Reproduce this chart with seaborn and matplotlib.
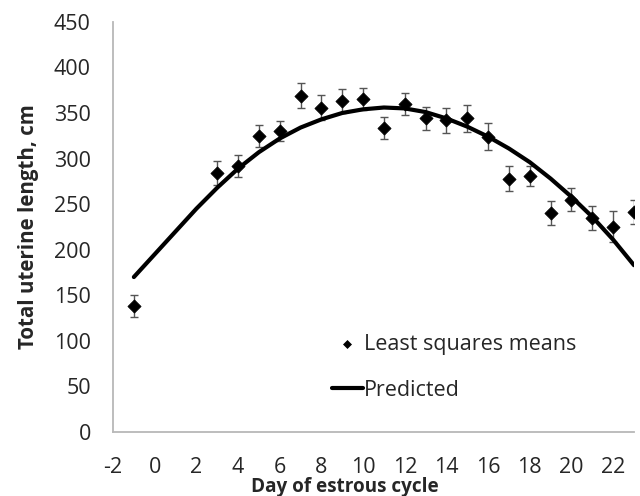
import seaborn as sns
import matplotlib.pyplot as plt
import numpy as np
import pandas as pd

# Least squares means per day of estrous cycle
dias = [-1, 3, 4, 5, 6, 7, 8, 9, 10, 11, 12, 13, 14, 15, 16, 17, 18, 19, 20, 21, 22, 23]
medias = [138, 284, 292, 325, 330, 369, 356, 363, 365, 334, 360, 344, 342, 344, 324,
          278, 281, 240, 255, 235, 225, 241]
erros = [12, 13, 12, 12, 11, 14, 14, 13, 12, 12, 12, 13, 14, 15, 15, 14, 11, 13, 13, 13, 17, 13]

# Predicted curve
dias_pred = list(range(-1, 24))
predito = [170, 195, 220, 245, 268, 289, 307, 322, 334, 343, 350, 354, 356, 355, 351,
           344, 335, 324, 311, 296, 278, 258, 236, 211, 183]

df_medias = pd.DataFrame({'dia': dias, 'comprimento': medias, 'erro': erros})
df_pred = pd.DataFrame({'dia': dias_pred, 'comprimento': predito})

sns.set_style("white")
plt.rcParams['font.family'] = ['Open Sans', 'DejaVu Sans']
plt.rcParams['axes.unicode_minus'] = False

fig = plt.figure(figsize=(6.4, 4.96), dpi=100)
eixo = fig.add_axes([0.1766, 0.129, 0.814, 0.827])

eixo.errorbar(df_medias['dia'], df_medias['comprimento'], yerr=df_medias['erro'],
              fmt='none', ecolor='#555555', elinewidth=1, capsize=3, capthick=1, zorder=2)
sns.scatterplot(data=df_medias, x='dia', y='comprimento', marker='D', s=45, color='black',
                edgecolor='black', label='Least squares means', ax=eixo, zorder=3)
sns.lineplot(data=df_pred, x='dia', y='comprimento', color='black', linewidth=3,
             label='Predicted', ax=eixo, zorder=4)

eixo.set_xlim(-2, 23)
eixo.set_ylim(0, 450)
eixo.set_xticks(np.arange(-2, 23, 2))
eixo.set_yticks(np.arange(0, 451, 50))

for lado in ['top', 'right']:
    eixo.spines[lado].set_visible(False)
for lado in ['left', 'bottom']:
    eixo.spines[lado].set_color('#b8b8b8')
    eixo.spines[lado].set_linewidth(1.3)

eixo.tick_params(axis='both', which='both', direction='out', length=6, width=1.3,
                 color='#b8b8b8', labelsize=15.5)
eixo.tick_params(axis='x', pad=12)
eixo.tick_params(axis='y', pad=10)

eixo.set_xlabel('Day of estrous cycle', fontsize=13.6, fontweight='bold')
eixo.xaxis.set_label_coords(0.445, -0.11)
eixo.set_ylabel('Total uterine length, cm', fontsize=14.8, fontweight='bold', labelpad=11)

eixo.legend(loc='upper left', bbox_to_anchor=(0.42, 0.24), frameon=False, fontsize=15.5,
            handlelength=1.45, handletextpad=0.05, labelspacing=1.18, borderaxespad=0,
            borderpad=0, markerscale=0.6)

plt.savefig('out.png', dpi=100)
